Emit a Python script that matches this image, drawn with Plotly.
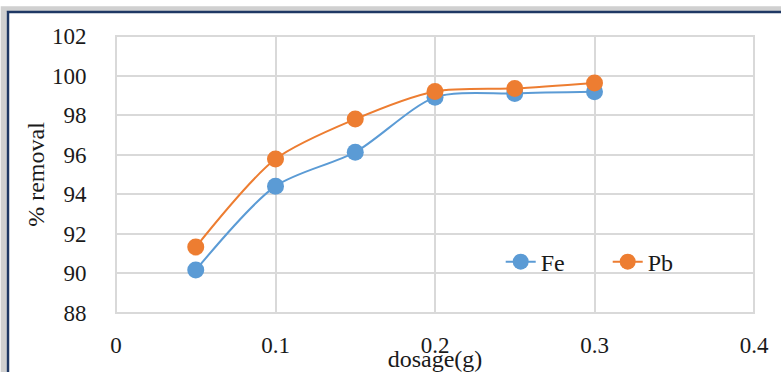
import plotly.graph_objects as go

dosage = [0.05, 0.10, 0.15, 0.20, 0.25, 0.30]
fe = [90.17, 94.41, 96.13, 98.90, 99.10, 99.18]
pb = [91.33, 95.78, 97.80, 99.20, 99.35, 99.63]
x_ticks = [0, 0.1, 0.2, 0.3, 0.4]
x_tick_text = ["0", "0.1", "0.2", "0.3", "0.4"]
y_ticks = [88, 90, 92, 94, 96, 98, 100, 102]

FONT = "Liberation Serif, serif"
FE_C = "#5B9BD5"
PB_C = "#ED7D31"

fig = go.Figure()
for name, ys, col in [("Fe", fe, FE_C), ("Pb", pb, PB_C)]:
    fig.add_trace(go.Scatter(
        x=dosage, y=ys, name=name, mode="lines+markers",
        line=dict(color=col, width=2, shape="spline", smoothing=0.8),
        marker=dict(color=col, size=17, line=dict(width=0)),
    ))

fig.update_layout(
    width=781, height=372,
    margin=dict(l=116, r=27, t=36, b=59, autoexpand=False),
    paper_bgcolor="white", plot_bgcolor="white",
    font=dict(family=FONT, size=23, color="#1a1a1a"),
    showlegend=True,
    legend=dict(x=0.603, y=0.184, xanchor="left", yanchor="middle",
                orientation="h", bgcolor="rgba(0,0,0,0)",
                font=dict(family=FONT, size=24, color="#1a1a1a"),
                entrywidth=62, entrywidthmode="pixels", tracegroupgap=0),
    xaxis=dict(range=[0, 0.4], tickvals=x_ticks, ticktext=x_tick_text,
               automargin=False,
               showgrid=True, gridcolor="#D9D9D9", gridwidth=2,
               zeroline=False, showline=False,
               ticks="outside", ticklen=11, tickcolor="rgba(0,0,0,0)",
               title=dict(text="dosage(g)", standoff=3,
                          font=dict(family=FONT, size=24))),
    yaxis=dict(range=[88, 102], tickvals=y_ticks,
               automargin=False,
               showgrid=True, gridcolor="#D9D9D9", gridwidth=2,
               zeroline=False, showline=False,
               ticks="outside", ticklen=24, tickcolor="rgba(0,0,0,0)",
               title=dict(text="% removal", standoff=0,
                          font=dict(family=FONT, size=24))),
)

fig.add_shape(type="rect", xref="paper", yref="paper", x0=0, x1=1, y0=0, y1=1,
              line=dict(color="#D9D9D9", width=2), layer="below")

fig.add_shape(type="rect", xref="paper", yref="paper",
              x0=-0.176, x1=1.2, y0=-0.5, y1=1.097,
              line=dict(color="rgba(120,120,120,0.35)", width=6), layer="below")
fig.add_shape(type="rect", xref="paper", yref="paper",
              x0=-0.1693, x1=1.2, y0=-0.5, y1=1.0866,
              line=dict(color="#1F3864", width=2.5), layer="below")

fig.write_html("out.html")
